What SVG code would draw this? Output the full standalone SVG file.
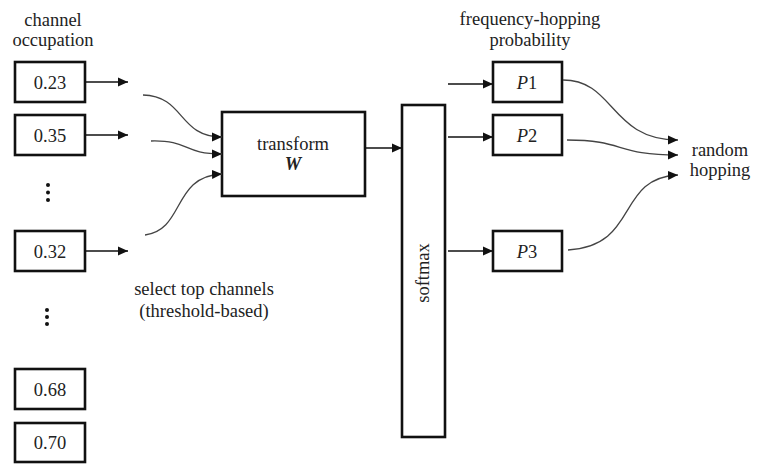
<svg xmlns="http://www.w3.org/2000/svg" width="757" height="464" viewBox="0 0 757 464">
<style>
text{font-family:'Liberation Serif','Times New Roman',serif;font-size:18.5px;fill:#222;text-anchor:middle}
.box{fill:#fff;stroke:#111;stroke-width:2.6}
.ln{fill:none;stroke:#111;stroke-width:1.3}
.cv{fill:none;stroke:#444;stroke-width:1.3}
.dot{fill:#111}
</style>
<defs>
<marker id="ah" viewBox="0 0 10 10" refX="10" refY="5" markerWidth="10" markerHeight="10" markerUnits="userSpaceOnUse" orient="auto">
<path d="M0,0.5 L10,5 L0,9.5 Z" fill="#111"/>
</marker>
</defs>
<text x="53" y="26">channel</text>
<text x="53" y="46">occupation</text>
<text x="530" y="25">frequency-hopping</text>
<text x="530" y="46">probability</text>
<text x="204" y="295">select top channels</text>
<text x="204" y="317">(threshold-based)</text>
<text x="720" y="156">random</text>
<text x="720" y="176">hopping</text>
<g id="n023"><rect class="box" x="15" y="62" width="70" height="40"/><text x="50" y="88.5">0.23</text></g>
<g id="n035"><rect class="box" x="15" y="115" width="70" height="40"/><text x="50" y="141.5">0.35</text></g>
<g id="n032"><rect class="box" x="15" y="231" width="70" height="40"/><text x="50" y="257.5">0.32</text></g>
<g id="n068"><rect class="box" x="15" y="369" width="70" height="40"/><text x="50" y="395.5">0.68</text></g>
<g id="n070"><rect class="box" x="15" y="423" width="70" height="39"/><text x="50" y="449">0.70</text></g>
<g id="dots1"><circle class="dot" cx="48" cy="185" r="2"/><circle class="dot" cx="48" cy="192.5" r="2"/><circle class="dot" cx="48" cy="200" r="2"/></g>
<g id="dots2"><circle class="dot" cx="47" cy="310" r="2"/><circle class="dot" cx="47" cy="317" r="2"/><circle class="dot" cx="47" cy="324" r="2"/></g>
<g id="transform"><rect class="box" x="222" y="112" width="143" height="84"/><text x="293" y="150">transform</text><text x="293" y="170" font-weight="bold" font-style="italic">W</text></g>
<g id="softmax"><rect class="box" x="402" y="105" width="43" height="332"/><text x="0" y="0" transform="translate(429,273) rotate(-90)">softmax</text></g>
<g id="p1"><rect class="box" x="493" y="62" width="69" height="40"/><text x="527" y="88.5"><tspan font-style="italic">P</tspan>1</text></g>
<g id="p2"><rect class="box" x="493" y="115" width="69" height="40"/><text x="527" y="141.5"><tspan font-style="italic">P</tspan>2</text></g>
<g id="p3"><rect class="box" x="493" y="231" width="69" height="40"/><text x="527" y="257.5"><tspan font-style="italic">P</tspan>3</text></g>
<g id="connectors">
<line class="ln" x1="85" y1="82" x2="128" y2="82" marker-end="url(#ah)"/>
<line class="ln" x1="85" y1="135" x2="128" y2="135" marker-end="url(#ah)"/>
<line class="ln" x1="85" y1="251" x2="128" y2="251" marker-end="url(#ah)"/>
<path class="cv" d="M143,95 C185,96 178,137 222,137" marker-end="url(#ah)"/>
<path class="cv" d="M151,141 C190,140 182,154 222,154" marker-end="url(#ah)"/>
<path class="cv" d="M145,235 C185,230 172,176 222,174" marker-end="url(#ah)"/>
<line class="ln" x1="365" y1="148" x2="402" y2="148" marker-end="url(#ah)"/>
<line class="ln" x1="448" y1="84" x2="493" y2="84" marker-end="url(#ah)"/>
<line class="ln" x1="448" y1="137" x2="493" y2="137" marker-end="url(#ah)"/>
<line class="ln" x1="448" y1="251" x2="493" y2="251" marker-end="url(#ah)"/>
<path class="cv" d="M563,80 C615,80 610,140 678,140" marker-end="url(#ah)"/>
<path class="cv" d="M567,140 C625,140 615,155 678,155" marker-end="url(#ah)"/>
<path class="cv" d="M568,250 C640,246 615,178 678,175" marker-end="url(#ah)"/>
</g>
</svg>
